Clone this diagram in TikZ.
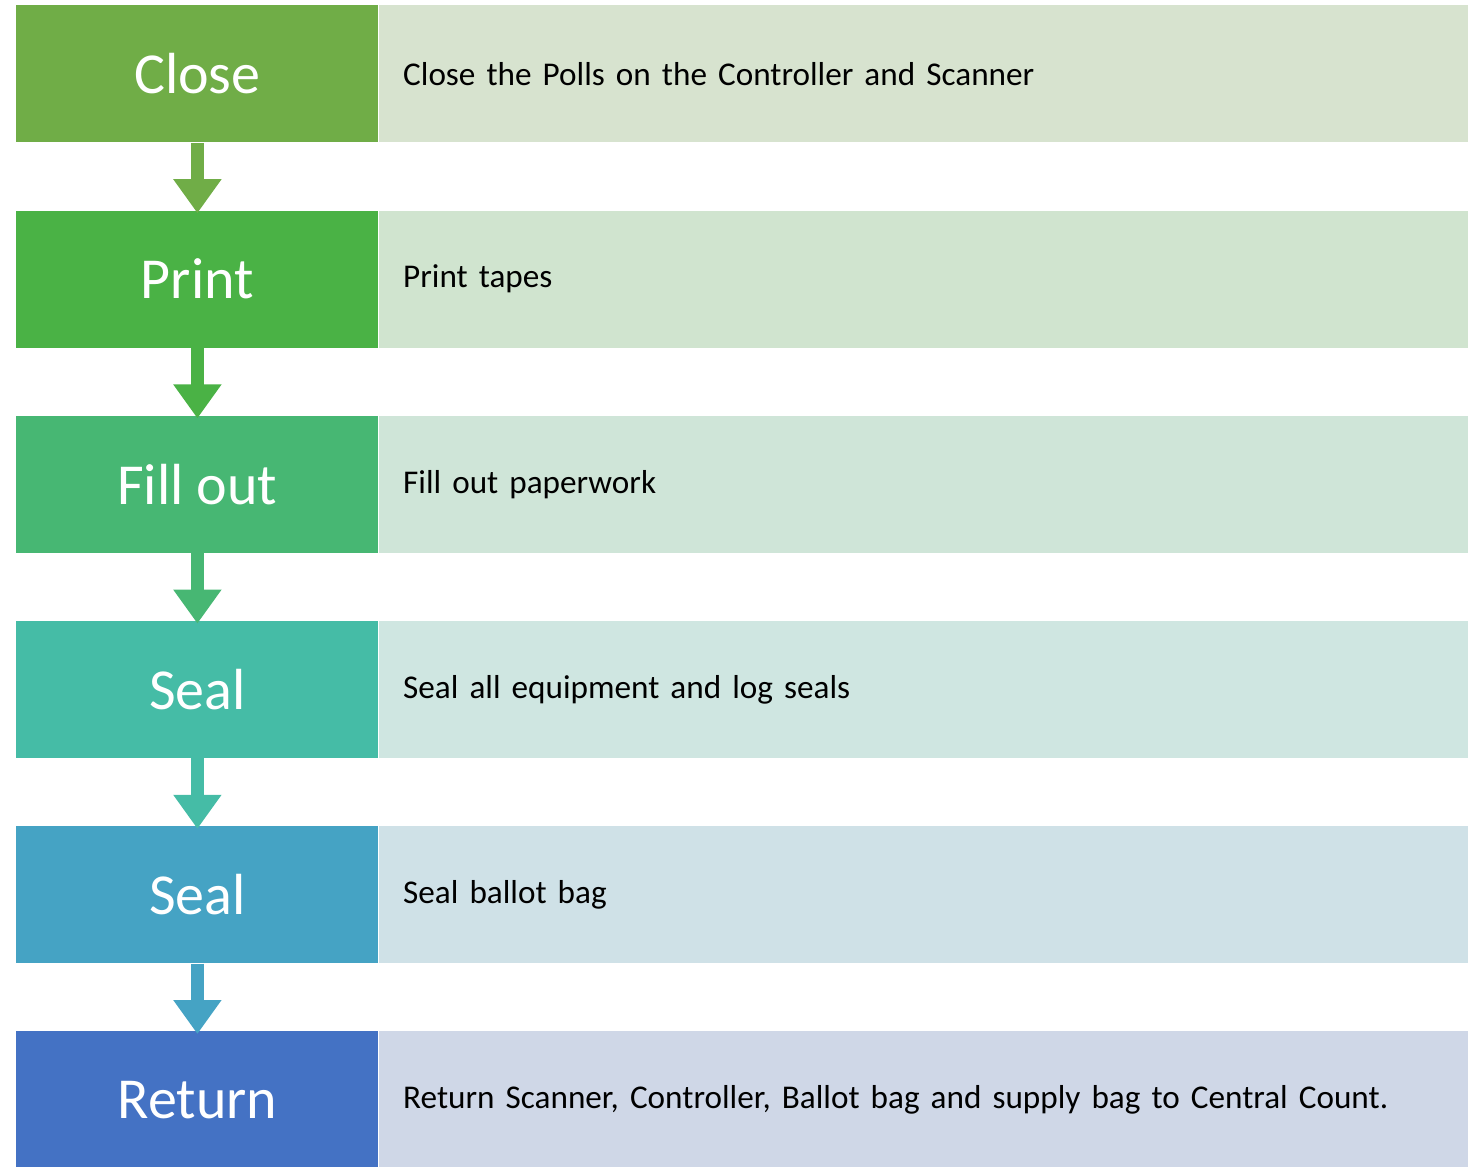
\documentclass[tikz,border=0pt]{standalone}
\usepackage{fontspec}
\setmainfont{Carlito}
\usetikzlibrary{arrows.meta, positioning}
\definecolor{closegreen}{RGB}{112, 173, 71}
\definecolor{printgreen}{RGB}{74, 178, 69}
\definecolor{fillgreen}{RGB}{71, 183, 115}
\definecolor{sealteal}{RGB}{69, 188, 166}
\definecolor{bagblue}{RGB}{69, 163, 196}
\definecolor{returnblue}{RGB}{68, 114, 196}
\tikzset{
    stepbox/.style={fill=#1, minimum width=181pt, minimum height=68.5pt, inner sep=0pt,
        anchor=north west, text=white, font=\fontsize{29}{32}\selectfont},
    notebox/.style={fill=#1!20!white!95!black, minimum width=544.5pt, minimum height=68.5pt, inner xsep=12pt,
        text width=520.5pt, align=left, anchor=west, font=\fontsize{16.6}{19}\selectfont},
    flow/.style={-{Triangle[width=23pt, length=17pt]}, line width=6.5pt, draw=#1, shorten >=-1.5pt}
}

\begin{document}
\begin{tikzpicture}[x=0.5pt, y=-0.5pt]
    \useasboundingbox (0, 0) rectangle (1473, 1167);

    \foreach \i/\top/\col/\word/\note in {
        1/5/closegreen/Close/Close the Polls on the Controller and Scanner,
        2/210.2/printgreen/Print/Print tapes,
        3/415.4/fillgreen/Fill out/Fill out paperwork,
        4/620.6/sealteal/Seal/Seal all equipment and log seals,
        5/825.8/bagblue/Seal/Seal ballot bag,
        6/1031/returnblue/Return/{Return Scanner, Controller, Ballot bag and supply bag to Central Count.}} {
        \node[stepbox=\col] (step\i) at (16, \top) {\word};
        \node[notebox=\col] (note\i) at (step\i.east) {\note};
    }

    \draw[flow=closegreen] (step1.south) -- (step2.north);
    \draw[flow=printgreen] (step2.south) -- (step3.north);
    \draw[flow=fillgreen] (step3.south) -- (step4.north);
    \draw[flow=sealteal] (step4.south) -- (step5.north);
    \draw[flow=bagblue] (step5.south) -- (step6.north);
\end{tikzpicture}
\end{document}
